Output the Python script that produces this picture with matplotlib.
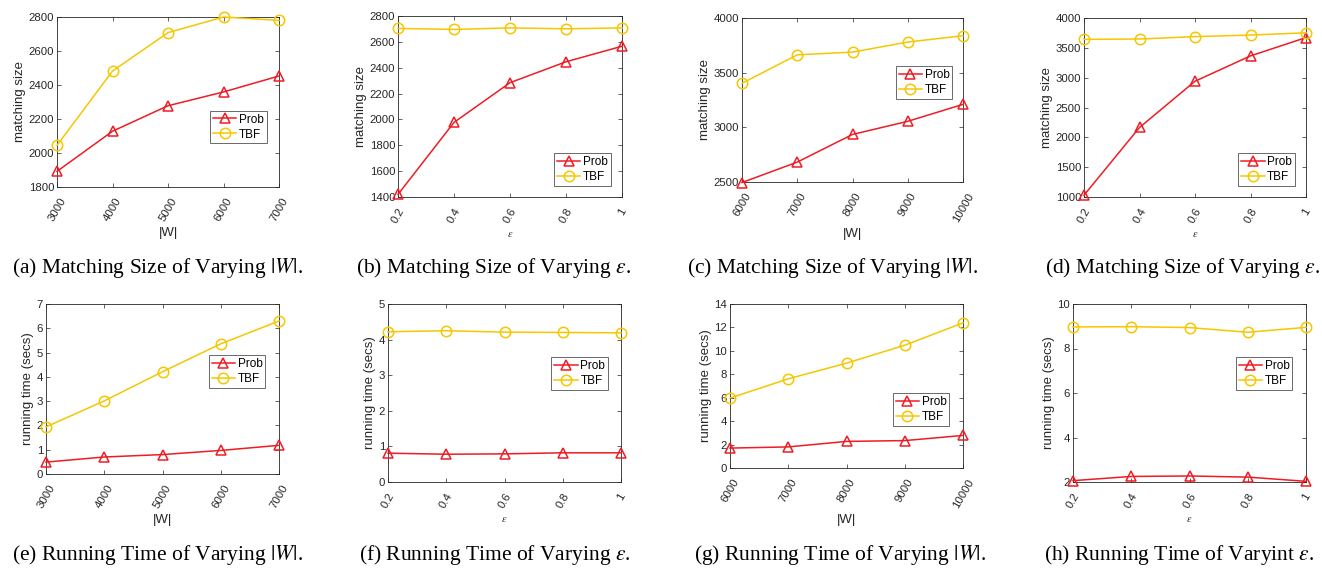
import numpy as np
from matplotlib import pyplot as plt

plt.rcParams['font.family'] = ['Liberation Sans', 'DejaVu Sans']
plt.rcParams['mathtext.fontset'] = 'stix'

# x values
w_small = [3000, 4000, 5000, 6000, 7000]
w_large = [6000, 7000, 8000, 9000, 10000]
eps = [0.2, 0.4, 0.6, 0.8, 1.0]
eps_labels = ['0.2', '0.4', '0.6', '0.8', '1']

# matching size
size_w_prob = [1892, 2128, 2278, 2359, 2453]
size_w_tbf = [2045, 2482, 2708, 2800, 2780]
size_eps_prob = [1420, 1977, 2284, 2446, 2566]
size_eps_tbf = [2704, 2696, 2708, 2701, 2708]
size_w2_prob = [2495, 2682, 2935, 3055, 3210]
size_w2_tbf = [3403, 3663, 3688, 3780, 3838]
size_eps2_prob = [1030, 2165, 2940, 3365, 3672]
size_eps2_tbf = [3642, 3648, 3688, 3714, 3752]

# running time (secs)
time_w_prob = [0.49, 0.70, 0.80, 0.97, 1.18]
time_w_tbf = [1.94, 3.01, 4.21, 5.36, 6.30]
time_eps_prob = [0.81, 0.78, 0.79, 0.82, 0.82]
time_eps_tbf = [4.22, 4.25, 4.21, 4.20, 4.19]
time_w2_prob = [1.70, 1.80, 2.27, 2.34, 2.78]
time_w2_tbf = [5.97, 7.61, 8.95, 10.48, 12.39]
time_eps2_prob = [2.06, 2.25, 2.27, 2.22, 2.03]
time_eps2_tbf = [8.97, 8.98, 8.94, 8.73, 8.95]

W, H = 1322, 568
RED = '#ee1c25'
YEL = '#f5c700'
GRAY = '#262626'


def px_rect(l, t, r, b):
    return [l / W, 1 - b / H, (r - l) / W, (b - t) / H]


def panel(fig, rect, x, prob, tbf, ylim, yticks, xlab, ylab, leg_anchor, leg_loc, caption, cap_xy, eps_axis=False):
    ax = fig.add_axes(px_rect(*rect))
    ax.plot(x, prob, color=RED, lw=1.1, marker='^', ms=7.5, mfc='none', mew=1.1, label='Prob', clip_on=False, zorder=3)
    ax.plot(x, tbf, color=YEL, lw=1.1, marker='o', ms=7.5, mfc='none', mew=1.1, label='TBF', clip_on=False, zorder=3)
    ax.set_xlim(x[0], x[-1])
    ax.set_ylim(*ylim)
    ax.set_yticks(yticks)
    ax.set_xticks(x)
    if eps_axis:
        ax.set_xticklabels(eps_labels)
    ax.tick_params(direction='in', length=3, width=0.5, top=True, right=True,
                   labelsize=8.2, colors=GRAY)
    ax.tick_params(axis='x', labelrotation=60, pad=6.5)
    ax.tick_params(axis='y', pad=2)
    for s in ax.spines.values():
        s.set_linewidth(0.6)
        s.set_color(GRAY)
    ax.set_xlabel(xlab, fontsize=9.5 if not eps_axis else 7.5, color=GRAY, labelpad=3)
    ax.set_ylabel(ylab, fontsize=9.5, color=GRAY, labelpad=2)
    leg = ax.legend(loc=leg_loc, bbox_to_anchor=leg_anchor, fontsize=8.5, frameon=True, fancybox=False,
                    edgecolor=GRAY, handlelength=2.0, handletextpad=0.2, borderpad=0.25,
                    labelspacing=0.25, borderaxespad=0.3)
    leg.get_frame().set_linewidth(0.6)
    fig.text(cap_xy[0] / W, 1 - cap_xy[1] / H, caption, fontsize=15.5,
             family='Liberation Serif', ha='center', va='center')
    return ax


fig = plt.figure(figsize=(W / 100, H / 100), dpi=100)

panel(fig, (57, 17, 279, 187), w_small, size_w_prob, size_w_tbf, (1800, 2800), range(1800, 2801, 200),
      '|W|', 'matching size', (0.96, 0.47), 'upper right', r'(a) Matching Size of Varying $|W|$.', (157, 268))
panel(fig, (398, 16, 622, 197), eps, size_eps_prob, size_eps_tbf, (1400, 2800), range(1400, 2801, 200),
      r'$\epsilon$', 'matching size', (0.965, 0.04), 'lower right', r'(b) Matching Size of Varying $\epsilon$.',
      (494, 268), eps_axis=True)
panel(fig, (742, 18, 963, 182), w_large, size_w2_prob, size_w2_tbf, (2500, 4000), range(2500, 4001, 500),
      '|W|', 'matching size', (0.968, 0.73), 'upper right', r'(c) Matching Size of Varying $|W|$.', (832, 268))
panel(fig, (1084, 18, 1306, 197), eps, size_eps2_prob, size_eps2_tbf, (1000, 4000), range(1000, 4001, 500),
      r'$\epsilon$', 'matching size', (0.965, 0.04), 'lower right', r'(d) Matching Size of Varying $\epsilon$.',
      (1183, 268), eps_axis=True)

panel(fig, (46, 304, 279, 474), w_small, time_w_prob, time_w_tbf, (0, 7), range(0, 8),
      '|W|', 'running time (secs)', (0.957, 0.72), 'upper right', r'(e) Running Time of Varying $|W|$.', (157, 555))
panel(fig, (388, 304, 621, 482), eps, time_eps_prob, time_eps_tbf, (0, 5), range(0, 6),
      r'$\epsilon$', 'running time (secs)', (0.96, 0.72), 'upper right', r'(f) Running Time of Varying $\epsilon$.',
      (495, 555), eps_axis=True)
panel(fig, (730, 304, 963, 468), w_large, time_w2_prob, time_w2_tbf, (0, 14), range(0, 15, 2),
      '|W|', 'running time (secs)', (0.957, 0.48), 'upper right', r'(g) Running Time of Varying $|W|$.', (840, 555))
panel(fig, (1073, 304, 1306, 482), eps, time_eps2_prob, time_eps2_tbf, (2, 10), range(2, 11, 2),
      r'$\epsilon$', 'running time (secs)', (0.957, 0.72), 'upper right', r'(h) Running Time of Varyint $\epsilon$.',
      (1179, 555), eps_axis=True)

plt.savefig('out.png', dpi=100)
